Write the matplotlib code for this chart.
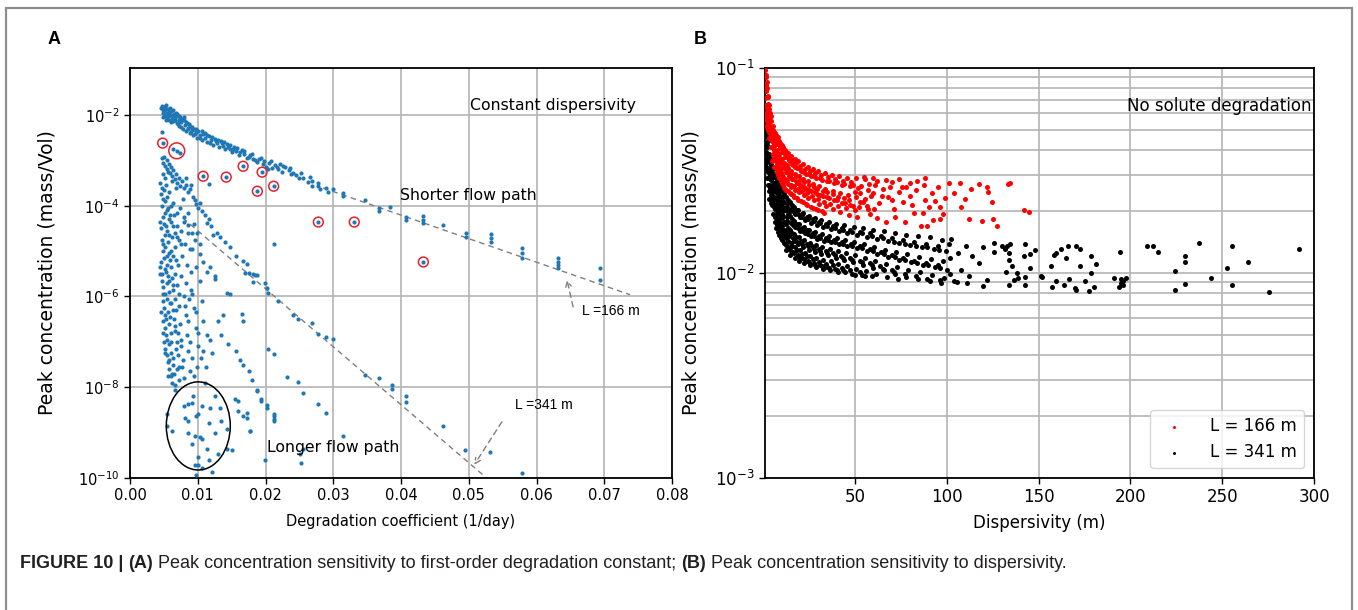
import matplotlib
matplotlib.use("Agg")
import matplotlib.pyplot as plt
import numpy as np
from matplotlib.patches import Ellipse, Rectangle
from matplotlib.ticker import FixedLocator, NullLocator, LogFormatterSciNotation, LogLocator, NullFormatter

# ---------------- Panel A data (x = degradation coefficient, value = log10 peak concentration) ----
short_x = [0.0047,0.0048,0.0049,0.0050,0.0051,0.0052,0.0053,0.0054,0.0055,0.0056,0.0057,0.0058,0.0059,0.0060,
           0.0061,0.0062,0.0063,0.0064,0.0065,0.0066,0.0068,0.0069,0.0070,0.0072,0.0073,0.0074,0.0076,0.0078,
           0.0079,0.0081,0.0083,0.0084,0.0086,0.0088,0.0089,0.0091,0.0093,0.0095,0.0097,0.0099,0.0101,0.0103,
           0.0106,0.0108,0.0111,0.0114,0.0116,0.0119,0.0122,0.0125,0.0128,0.0131,0.0134,0.0137,0.0140,0.0143,
           0.0147,0.0150,0.0154,0.0157,0.0161,0.0165,0.0169,0.0173,0.0177,0.0182,0.0187,0.0191,0.0196,0.0200,
           0.0205,0.0210,0.0214,0.0219,0.0224,0.0229,0.0234,0.0238,0.0245,0.0250,0.0256,0.0262,0.0268,0.0278,
           0.0280,0.0290,0.0292,0.0300,0.0315,0.0347,0.0367,0.0367,0.0384,0.0408,0.0408,0.0433,0.0433,0.0433,
           0.0462,0.0496,0.0496,0.0533,0.0533,0.0533,0.0579,0.0579,0.0579,0.0631,0.0631,0.0631,0.0631,0.0693,
           0.0693,0.0047,0.0116,0.0212,0.0226,0.0241,0.0268,0.0278,0.0315,
           0.0050,0.0053,0.0058,0.0061,0.0067,0.0071,0.0075,0.0080,0.0085,0.0090,0.0096,0.0104,0.0110,0.0118,
           0.0127,0.0136,0.0145,0.0152,0.0163,0.0175,0.0185,0.0198,0.0203,0.0217,
           0.0046,0.0049,0.0052,0.0055,0.0057,0.0060,0.0063,0.0066,0.0069,0.0072,0.0077,0.0082,0.0087,0.0092,
           0.0098,0.0107,0.0113,0.0121,0.0130,0.0139,0.0148,0.0158,0.0168,0.0180,0.0193,0.0208,0.0222,0.0236,
           0.0252,0.0265]
short_logc = [-1.80,-1.88,-1.95,-1.83,-2.02,-1.90,-1.79,-1.97,-2.06,-1.86,-1.93,-2.10,-1.84,-2.00,
              -1.92,-2.08,-1.88,-2.14,-1.97,-2.04,-1.95,-2.18,-2.02,-2.10,-2.25,-2.05,-2.16,-2.30,
              -2.12,-2.22,-2.35,-2.18,-2.28,-2.40,-2.24,-2.33,-2.45,-2.30,-2.38,-2.50,-2.36,-2.44,
              -2.55,-2.42,-2.50,-2.60,-2.47,-2.56,-2.66,-2.52,-2.62,-2.70,-2.58,-2.68,-2.76,-2.64,
              -2.74,-2.82,-2.70,-2.80,-2.88,-2.78,-2.86,-2.94,-2.88,-2.96,-3.04,-2.98,-3.08,-3.14,
              -3.06,-3.16,-3.10,-3.20,-3.26,-3.15,-3.22,-3.30,-3.32,-3.40,-3.38,-3.48,-3.56,-3.56,
              -3.64,-3.60,-3.70,-3.64,-3.72,-3.87,-4.05,-4.12,-4.02,-4.24,-4.31,-4.23,-4.32,-4.39,
              -4.43,-4.61,-4.68,-4.63,-4.72,-4.81,-4.94,-5.05,-5.15,-5.16,-5.24,-5.31,-5.38,-5.38,
              -5.64,-2.37,-3.53,-4.84,-3.12,-3.28,-3.45,-3.50,-3.78,
              -1.92,-2.12,-1.98,-2.15,-2.10,-2.20,-2.26,-2.05,-2.32,-2.38,-2.42,-2.50,-2.40,-2.62,
              -2.58,-2.62,-2.70,-2.76,-2.82,-2.92,-3.00,-3.02,-3.20,-3.14,
              -1.85,-2.05,-1.82,-1.95,-2.02,-1.90,-2.02,-2.12,-1.98,-2.02,-2.08,-2.15,-2.20,-2.26,
              -2.32,-2.35,-2.44,-2.48,-2.55,-2.60,-2.66,-2.72,-2.80,-2.86,-2.95,-3.02,-3.08,-3.16,
              -3.28,-3.36]

long_x = [0.0047,0.0049,0.0050,0.0052,0.0054,0.0055,0.0057,0.0059,0.0060,0.0062,0.0064,0.0066,0.0068,0.0070,
          0.0072,0.0074,0.0077,0.0080,0.0083,0.0086,0.0089,0.0093,0.0096,0.0098,0.0101,0.0106,0.0110,0.0113,
          0.0045,0.0046,0.0047,0.0048,0.0046,0.0047,0.0048,0.0046,0.0047,0.0050,0.0051,0.0052,0.0050,0.0051,
          0.0052,0.0050,0.0051,0.0055,0.0056,0.0057,0.0055,0.0056,0.0057,0.0055,0.0056,0.0060,0.0061,0.0062,
          0.0060,0.0061,0.0065,0.0066,0.0067,0.0068,0.0066,0.0070,0.0072,0.0074,0.0076,0.0077,0.0079,0.0081,
          0.0084,0.0088,0.0090,0.0086,
          0.0123,0.0133,0.0140,0.0148,0.0157,0.0167,0.0172,0.0182,0.0187,0.0128,0.0103,0.0118,0.0125,0.0079,
          0.0086,0.0091,0.0096,
          0.0045,0.0047,0.0049,0.0051,0.0048,0.0050,0.0052,0.0049,0.0051,0.0053,0.0050,0.0052,0.0054,0.0056,
          0.0058,0.0060,0.0062,0.0055,0.0057,0.0059,0.0056,0.0058,0.0060,0.0057,0.0061,0.0063,0.0065,0.0067,
          0.0062,0.0064,0.0066,0.0063,0.0065,0.0067,0.0069,0.0071,0.0073,0.0070,0.0072,0.0074,0.0076,0.0078,
          0.0080,0.0075,0.0079,0.0082,0.0084,0.0086,0.0088,0.0090,0.0094,0.0097,0.0100,0.0099,0.0103,0.0106,
          0.0108,0.0105,0.0110,0.0113,0.0118,0.0121,0.0125,0.0130,0.0135,0.0138,0.0143,0.0145,0.0148,0.0157,
          0.0162,0.0165,0.0167,0.0167,0.0175,0.0180,0.0187,0.0194,0.0202,0.0212,0.0212,0.0177,
          0.0170,0.0175,0.0185,0.0182,0.0199,0.0202,0.0204,0.0219,0.0241,0.0248,0.0268,0.0278,0.0290,0.0300,
          0.0347,0.0367,0.0386,0.0386,
          0.0204,0.0212,0.0231,0.0248,0.0256,0.0278,0.0290,0.0315,
          0.0079,0.0086,0.0091,0.0093,0.0106,0.0118,0.0125,0.0133,0.0081,0.0086,0.0098,0.0101,0.0116,0.0135,
          0.0143,0.0125,0.0086,0.0096,0.0103,0.0106,0.0091,0.0113,0.0054,0.0054,0.0062,
          0.0101,0.0101,0.0116,0.0121,0.0130,0.0143,0.0150,0.0096,0.0106,0.0098,
          0.0155,0.0160,0.0160,0.0167,0.0172,0.0172,0.0177,0.0187,0.0194,0.0202,0.0212,0.0212,0.0199,0.0251,
          0.0253,0.0256,
          0.0408,0.0408,0.0462,0.0494,0.0532,0.0578,
          0.0048,0.0053,0.0058,0.0049,0.0054,0.0059,0.0063,0.0045,0.0053,0.0058,0.0064,0.0069,0.0049,0.0054,
          0.0059,0.0063,0.0069,0.0045,0.0053,0.0058,0.0064,0.0071,0.0076,0.0049,0.0054,0.0061,0.0068,0.0073,
          0.0046,0.0053,0.0059,0.0066,0.0071,0.0048,0.0055,0.0061,0.0068,0.0075,0.0051,0.0058,0.0064,0.0070,
          0.0077,0.0056,0.0062,0.0067,0.0073,0.0081,0.0085,0.0089,0.0092,0.0095,0.0083,0.0087,0.0092,0.0097,
          0.0101,0.0108,0.0112,0.0094,0.0099,0.0104,0.0108,0.0113,0.0085,0.0092,0.0098,0.0078,0.0068,0.0062,
          0.0056,0.0051,0.0047,0.0082,0.0090,0.0104,0.0116,0.0120]
long_logc = [-2.95,-3.05,-2.93,-3.12,-3.00,-3.20,-3.08,-3.28,-3.15,-3.35,-3.22,-3.42,-3.30,-3.50,
             -3.38,-3.56,-3.46,-3.62,-3.55,-3.70,-3.64,-3.80,-3.88,-3.96,-4.05,-4.12,-4.20,-4.38,
             -3.50,-3.75,-4.00,-4.25,-4.50,-4.75,-5.00,-5.25,-5.50,-3.65,-3.90,-4.15,-4.40,-4.65,
             -4.90,-5.15,-5.40,-3.80,-4.05,-4.30,-4.55,-4.80,-5.05,-5.30,-5.55,-4.00,-4.35,-4.70,
             -5.00,-5.35,-4.20,-4.60,-4.90,-5.20,-5.50,-4.45,-4.75,-4.05,-4.55,-5.10,-4.35,-4.85,
             -5.30,-4.95,-5.45,-4.60,
             -4.65,-4.69,-4.80,-4.91,-5.10,-5.21,-5.28,-5.51,-5.52,-4.61,-5.06,-5.36,-5.62,-4.24,
             -4.43,-4.61,-4.76,
             -5.50,-5.65,-5.80,-5.95,-6.10,-6.25,-6.40,-6.55,-6.70,-6.85,-7.00,-7.15,-7.30,-7.45,
             -7.60,-7.75,-7.90,-5.70,-5.90,-6.15,-6.35,-6.60,-6.80,-7.05,-7.25,-7.50,-7.70,-7.95,
             -5.60,-5.85,-6.05,-6.30,-6.50,-6.75,-7.00,-7.30,-7.55,-5.75,-6.20,-6.60,-6.95,-7.40,
             -7.80,-5.55,-6.00,-6.40,-6.85,-7.20,-7.65,-5.85,-6.25,-6.70,-7.10,-7.55,-5.65,-6.10,
             -6.55,-7.35,-7.90,-6.85,-6.95,-7.25,-5.55,-6.55,-6.85,-6.40,-5.92,-7.05,-5.95,-7.20,
             -7.40,-6.38,-6.55,-7.50,-7.65,-7.85,-8.05,-8.25,-8.40,-8.60,-8.70,-8.97,
             -5.49,-5.49,-5.53,-5.68,-5.71,-5.82,-5.93,-6.11,-6.40,-6.50,-6.58,-6.83,-6.90,-6.94,
             -7.73,-7.80,-7.95,-8.04,
             -7.16,-7.26,-7.77,-7.88,-8.13,-8.38,-8.56,-9.07,
             -8.42,-8.38,-8.35,-8.20,-8.42,-8.46,-8.20,-8.46,-8.67,-8.74,-8.64,-8.60,-8.78,-8.74,
             -8.93,-9.00,-9.00,-9.07,-9.10,-9.14,-9.25,-9.36,-8.60,-8.85,-8.96,
             -9.54,-9.72,-9.61,-9.86,-9.47,-9.36,-9.39,-9.72,-9.79,-9.94,
             -8.27,-8.31,-8.53,-8.64,-8.56,-8.67,-8.96,-8.09,-8.31,-8.46,-8.64,-8.74,-9.61,-9.47,
             -9.68,-9.36,
             -8.20,-8.33,-8.85,-9.39,-9.43,-9.88,
             -3.30,-3.55,-3.70,-3.85,-4.10,-4.20,-3.95,-4.35,-4.45,-4.65,-4.45,-4.15,-4.85,-5.10,
             -5.20,-5.10,-4.70,-5.35,-5.45,-5.65,-5.75,-5.30,-4.85,-5.95,-6.05,-6.15,-6.30,-5.95,
             -6.35,-6.50,-6.45,-6.65,-6.80,-6.80,-6.95,-7.00,-7.15,-7.10,-7.25,-7.40,-7.35,-7.60,
             -7.55,-7.75,-7.70,-8.05,-7.85,-6.20,-6.55,-7.00,-7.35,-7.75,-5.70,-6.05,-5.95,-6.35,
             -6.80,-7.20,-7.55,-4.40,-4.60,-4.85,-5.25,-5.45,-4.15,-4.95,-5.35,-3.85,-3.60,-3.45,
             -3.25,-3.40,-3.60,-3.40,-3.55,-3.95,-4.30,-4.45]

# points highlighted with red rings
ring_x = [0.00482,0.0069,0.0108,0.0142,0.0167,0.0195,0.0188,0.0212,0.0278,0.0331,0.0433]
ring_logc = [-2.62,-2.79,-3.35,-3.37,-3.13,-3.26,-3.68,-3.57,-4.36,-4.36,-5.24]
ring_extra_x = [0.0064,0.0074]
ring_extra_logc = [-2.74,-2.84]

# guide lines (x, log10 c)
short_guide_x = [0.0285, 0.0738]
short_guide_logc = [-3.61, -5.96]
long_guide_x = [0.0078, 0.0524]
long_guide_logc = [-4.27, -9.97]

# ---------------- Panel B data ----------------
red_x = [1.2,1.4,1.3,1.5,1.2,1.4,1.6,1.3, 1.8,1.9,1.7,2.0,1.8,1.9,1.7,2.0, 2.3,2.5,2.4,2.6,2.3,2.5,2.7,
         2.9,3.1,3.0,3.2,2.9,3.1, 3.5,3.7,3.6,3.8,3.5, 4.2,4.5,4.3,4.6,4.4, 5.1,5.4,5.2,5.5,5.3,5.0,
         6.2,6.5,6.3,6.7,6.4,6.1, 7.4,7.8,7.5,7.9,7.6,7.3, 8.7,9.1,8.8,9.2,8.9,8.6, 10.1,10.5,10.2,10.6,10.3,10.0,
         11.7,12.1,11.8,12.2,11.9,11.6, 13.4,13.8,13.5,13.9,13.6,13.3, 15.2,15.6,15.3,15.7,15.4,15.1,
         17.1,17.6,17.2,17.7,17.3,16.9, 19.2,19.8,19.4,19.9,19.5,19.1, 21.6,22.3,21.8,22.4,22.0,21.5,
         24.2,25.0,24.4,25.1,24.6,24.1, 27.0,27.9,27.2,28.0,27.5,26.9, 30.1,31.1,30.4,31.2,30.6,30.0,
         33.5,34.6,33.8,34.8,34.1,33.4, 37.4,38.6,37.8,38.8,38.0, 41.5,42.7,41.8,42.9,42.1,
         45.9,47.2,46.2,47.4,46.6, 50.4,51.8,50.7,52.0,51.2, 55.3,56.9,55.7,57.1,
         5.8,5.9,5.7,7.0,7.1,6.9,8.2,8.3,8.1,9.6,9.7,9.5,11.1,11.2,11.0,12.8,12.9,12.7,14.5,14.6,14.4,
         16.3,16.4,16.2,18.4,18.5,18.3,20.7,20.8,20.6,23.3,23.4,23.2,26.0,26.1,25.9,29.0,29.1,28.9,
         32.3,32.4,32.2,36.0,36.1,40.0,40.1,44.2,44.3,48.7,48.8,53.5,
         55,59.7,62.1,66.8,70.3,73.9,79.7,84,88,101,107.3,117.5,121.7,122.2,124.6,134.5,133.3,108,112.3,
         119.4,125,127.4,142.3,144.6,96.2,92.7,89.2,85.7,77.4,82.1,86.8,90.4,96.2,
         60,63,65,68,71,74,76,80,83,92,95,99,58,62,67,72,61,69,78,88,104,113,110,
         2.0,2.7,3.3,3.9,4.8,4.0,5.6,6.0,6.8,7.2,8.0,8.4,9.3,9.9,10.8,11.3,12.4,13.0,14.1,14.9,16.0,16.6,
         17.9,18.9,20.2,21.2,22.8,23.7,25.5,26.4,28.5,29.6,31.7,33.0,35.3,36.6,39.2,40.6,43.5,45.1,48.1,50.0,
         53.0,54.5,57.8,58.5,3.0,2.2,1.6,6.6,11.5,15.0,20.0,25.0,29.5,35.0,41.0,47.0,52.5,9.0,13.0,18.0,
         22.5,27.5,32.5,38.0,44.0,50.0,56.5,60.5,64.5,70.0,75.5,81.0,87.5,93.5,98.0]
red_c = [0.098,0.090,0.083,0.077,0.071,0.066,0.060,0.056, 0.092,0.085,0.078,0.072,0.066,0.061,0.057,0.053,
         0.080,0.073,0.067,0.062,0.058,0.054,0.050, 0.072,0.066,0.061,0.057,0.053,0.049,
         0.060,0.056,0.052,0.048,0.045, 0.055,0.051,0.047,0.044,0.041, 0.050,0.047,0.044,0.041,0.038,0.035,
         0.048,0.045,0.042,0.039,0.036,0.033, 0.046,0.043,0.040,0.037,0.034,0.031,
         0.044,0.041,0.038,0.035,0.032,0.029, 0.042,0.039,0.036,0.033,0.030,0.0275,
         0.040,0.037,0.034,0.031,0.028,0.026, 0.0385,0.0355,0.0325,0.0298,0.0272,0.0250,
         0.0372,0.0342,0.0315,0.0288,0.0262,0.0242, 0.036,0.033,0.0305,0.028,0.0255,0.0235,
         0.035,0.0322,0.0296,0.027,0.0248,0.0228, 0.034,0.0312,0.0286,0.0262,0.024,0.0222,
         0.033,0.0305,0.028,0.0255,0.0232,0.0215, 0.0322,0.0296,0.0272,0.0248,0.0226,0.0208,
         0.0315,0.029,0.0265,0.024,0.0218,0.0202, 0.0308,0.0282,0.0258,0.0234,0.0212,0.0196,
         0.030,0.0275,0.025,0.0228,0.0206, 0.0296,0.027,0.0245,0.022,0.0199,
         0.0292,0.0265,0.024,0.0215,0.0192, 0.029,0.026,0.0235,0.021,0.0188, 0.0288,0.0255,0.023,0.0205,
         0.0485,0.0425,0.0365,0.0445,0.0385,0.0325,0.0425,0.0365,0.030,0.0405,0.0345,0.0285,0.0385,0.0325,0.027,
         0.0368,0.031,0.0255,0.0352,0.0298,0.0246,0.0338,0.0286,0.0240,0.0325,0.0275,0.0232,0.0315,0.0266,0.0225,
         0.0305,0.0258,0.0218,0.0298,0.0252,0.0211,0.029,0.0244,0.0205,0.0285,0.0238,0.0200,0.0282,0.0232,
         0.0278,0.0226,0.0272,0.0220,0.0268,0.0212,0.0265,
         0.0295,0.0292,0.0282,0.0285,0.0278,0.0288,0.0275,0.0280,0.029,0.0275,0.0275,0.0272,0.0262,0.0247,0.0223,
         0.0275,0.0272,0.0211,0.0183,0.018,0.0184,0.0169,0.0203,0.0199,0.0184,0.0182,0.0169,0.0169,0.0178,0.0196,
         0.0196,0.0211,0.0211,
         0.0245,0.022,0.0258,0.0235,0.0205,0.0248,0.0222,0.0238,0.0255,0.0245,0.0262,0.0232,0.0195,0.0185,0.0178,
         0.0188,0.0268,0.0262,0.0262,0.0228,0.0245,0.0258,0.023,
         0.064,0.056,0.063,0.050,0.046,0.058,0.052,0.040,0.047,0.035,0.046,0.033,0.043,0.031,0.041,0.029,0.039,
         0.0285,0.037,0.027,0.0355,0.0265,0.0345,0.0258,0.0332,0.0252,0.0322,0.0245,0.0315,0.0238,0.0308,0.023,
         0.0302,0.0222,0.0295,0.0218,0.0288,0.0212,0.0282,0.0208,0.0278,0.0202,0.0245,0.0222,0.0272,0.0238,
         0.0455,0.0515,0.0575,0.0375,0.0345,0.0305,0.0285,0.0268,0.0258,0.0248,0.0235,0.0228,0.0222,0.0365,
         0.0338,0.0298,0.0278,0.0262,0.0252,0.0242,0.0232,0.0248,0.0212,0.0205,0.0238,0.0228,0.0262,0.0215,
         0.0268,0.0225,0.0195]

black_x = [1.3,1.5,1.2,1.6,1.4,1.3, 2.1,2.3,2.0,2.4,2.2,2.1, 3.1,3.4,3.0,3.3,3.1,3.4,3.2, 4.2,4.5,4.1,4.4,4.2,4.5,
           5.4,5.7,5.3,5.6,5.4,5.7,5.5, 6.8,7.2,6.9,7.3,7.0,6.8,7.2,7.0, 8.5,8.9,8.6,9.0,8.7,8.5,8.9,8.7,
           10.3,10.8,10.4,10.9,10.5,10.2,10.7,10.4, 12.2,12.8,12.4,12.9,12.5,12.1,12.7,12.3,12.6,
           14.4,15.0,14.5,15.1,14.7,14.3,14.9,14.6,14.8, 16.7,17.4,16.8,17.5,17.0,16.6,17.3,16.9,17.2,
           19.1,19.9,19.3,20.0,19.5,19.0,19.8,19.4,19.7, 21.9,22.8,22.1,22.9,22.3,21.8,22.6,22.2,22.5,
           24.8,25.8,25.0,25.9,25.3,24.7,25.6,25.1,25.5, 28.1,29.2,28.3,29.3,28.6,28.0,29.0,28.4,28.8,
           31.6,32.8,31.9,33.0,32.2,31.5,32.6,32.0,32.4, 35.6,36.9,35.9,37.0,36.2,35.5,36.7,36.0,36.4,
           39.8,41.2,40.1,41.3,40.5,39.7,41.0,40.3,40.7, 44.2,45.8,44.6,45.9,45.0,44.1,45.5,44.8,
           49.2,50.9,49.6,51.0,50.0,49.1,50.6,49.8, 54.6,56.4,55.0,56.5,55.5,54.5,56.1,55.2,
           60.0,62.0,60.5,62.1,61.0,59.9,61.6, 66.0,68.1,66.4,68.2,67.0,65.9,67.6,
           71.9,74.1,72.3,74.2,73.0,71.8,73.6, 77.9,80.2,78.4,80.3,79.0,77.8,
           84.3,86.7,84.8,86.8,85.5,84.2, 90.8,93.3,91.3,93.4,92.0,90.7, 97.2,99.8,97.7,99.9,98.5,97.1,
           3.7,3.8,3.6,4.9,5.0,4.8,6.2,6.3,6.1,6.2,7.8,7.9,7.7,7.8,9.6,9.7,9.5,9.6,11.5,11.6,11.4,11.5,
           13.6,13.7,13.5,13.6,15.8,15.9,15.7,15.8,18.2,18.3,18.1,18.2,20.9,21.0,20.8,20.9,23.8,23.9,23.7,23.8,
           26.9,27.0,26.8,26.9,30.4,30.5,30.3,30.4,34.2,34.3,34.1,34.2,38.3,38.4,38.2,38.3,42.7,42.8,42.6,42.7,
           47.5,47.6,47.4,47.5,52.7,52.8,52.6,52.7,58.2,58.3,58.1,64.0,64.1,63.9,70.0,70.1,69.9,76.0,76.1,
           82.2,82.3,88.7,88.8,95.2,95.3,101,102,101.5,104,
           125.6,125.6,130.2,131.7,133,134.3,133.9,133.9,135.3,132,136.6,133.9,139,138.5,142.7,142.1,142.7,142.7,
           145.4,145.4,148.2,151.3,151.8,157,158.6,159.5,162.3,165.9,165,170.5,172.3,172.3,178.4,181.1,178.4,
           159.5,164.1,166.8,169.6,170.5,175.1,177.5,180.2,157.1,191,194.3,194.7,194.7,194,195.8,196.2,197.6,
           209.3,212.3,215,224.5,224.5,230,230,230,237.4,243.8,255.1,252.4,255.1,263.9,275.6,291.8,
           102.2,110.4,119.8,117.5,105.7,119.8,112,108,114,122,106,111,
           1.8,1.9,1.7,2.6,2.7,2.8,2.9,3.5,3.9,4.0,4.7,4.6,5.1,5.9,6.0,6.5,6.4,7.5,7.6,7.4,8.1,8.2,8.3,8.1,
           9.2,9.3,9.1,9.9,10.0,10.1,9.8,11.1,11.0,11.2,11.1,12.0,13.1,13.2,13.0,13.3,14.1,16.1,16.2,16.3,16.0,
           18.8,18.9,18.7,18.9,21.4,21.5,21.3,21.4,24.3,24.4,24.2,24.3,27.6,27.7,27.5,27.6,31.0,31.1,30.9,31.0,
           35.0,35.1,34.9,35.0,39.1,39.2,39.0,39.1,43.6,43.7,43.5,43.6,48.5,48.6,48.4,48.5,54.0,54.1,53.9,53.8,
           59.5,59.6,59.4,59.3,65.5,65.6,65.4,71.5,71.6,71.4,77.0,77.1,77.2,83.5,83.6,83.4,89.5,89.6,89.4,
           96.0,96.1,96.2]
black_c = [0.052,0.047,0.043,0.039,0.036,0.033, 0.046,0.042,0.038,0.035,0.032,0.029,
           0.038,0.035,0.032,0.029,0.027,0.025,0.023, 0.034,0.031,0.0285,0.026,0.024,0.022,
           0.032,0.0295,0.027,0.0248,0.0228,0.021,0.0195, 0.029,0.0268,0.0247,0.0228,0.021,0.0193,0.0178,0.0165,
           0.027,0.025,0.023,0.0212,0.0195,0.018,0.0166,0.0154, 0.0252,0.0234,0.0216,0.020,0.0185,0.017,0.0157,0.0145,
           0.0235,0.0218,0.0202,0.0187,0.0173,0.016,0.0148,0.0137,0.013,
           0.0222,0.0206,0.019,0.0176,0.0163,0.0151,0.014,0.013,0.0123,
           0.021,0.0195,0.018,0.0167,0.0155,0.0144,0.0134,0.0125,0.0119,
           0.0202,0.0187,0.0173,0.016,0.0149,0.0138,0.0129,0.012,0.0115,
           0.0196,0.0181,0.0168,0.0156,0.0145,0.0134,0.0125,0.0117,0.0112,
           0.019,0.0176,0.0163,0.0151,0.014,0.013,0.0121,0.0113,0.0109,
           0.0186,0.0172,0.0159,0.0147,0.0137,0.0127,0.0118,0.011,0.0107,
           0.0182,0.0168,0.0155,0.0144,0.0134,0.0124,0.0116,0.0108,0.0105,
           0.0178,0.0164,0.0152,0.0141,0.0131,0.0122,0.0114,0.0106,0.0103,
           0.0174,0.016,0.0148,0.0138,0.0128,0.0119,0.0111,0.0104,0.0101,
           0.0171,0.0157,0.0145,0.0135,0.0125,0.0116,0.0108,0.0101,
           0.0168,0.0154,0.0142,0.0132,0.0122,0.0113,0.0105,0.0098,
           0.0165,0.015,0.0138,0.0128,0.0119,0.011,0.0102,0.0097,
           0.0163,0.0147,0.0134,0.0124,0.0115,0.0106,0.0099, 0.016,0.0143,0.013,0.012,0.0111,0.0103,0.0096,
           0.0157,0.014,0.0127,0.0116,0.0107,0.0099,0.0094, 0.0154,0.0137,0.0124,0.0113,0.0104,0.0096,
           0.0152,0.0134,0.012,0.011,0.0101,0.0093, 0.015,0.0131,0.0117,0.0107,0.0098,0.0091,
           0.0145,0.0128,0.0114,0.0104,0.0095,0.0089,
           0.0365,0.0305,0.026,0.0325,0.027,0.023,0.0305,0.0258,0.0218,0.0188,0.028,0.0238,0.0202,0.0172,
           0.026,0.0222,0.0188,0.016,0.0243,0.0208,0.0178,0.0151,0.0228,0.0195,0.0166,0.0143,
           0.0215,0.0183,0.0157,0.0135,0.0203,0.0174,0.0149,0.0129,0.0195,0.0166,0.0143,0.0124,
           0.0188,0.0162,0.0139,0.0121,0.0183,0.0157,0.0135,0.0117,0.0178,0.0152,0.0131,0.0113,
           0.0174,0.0148,0.0128,0.0111,0.017,0.0145,0.0125,0.0109,0.0166,0.0141,0.0121,0.0106,
           0.0162,0.0138,0.0118,0.0103,0.0159,0.0135,0.0115,0.0101,0.0156,0.0131,0.0112,0.0152,0.0126,0.0108,
           0.0148,0.0122,0.0104,0.0145,0.0118,0.0142,0.0115,0.0139,0.0112,0.0136,0.0109,0.0138,0.0119,0.0099,0.0091,
           0.01406,0.01262,0.01352,0.01312,0.01352,0.0138,0.01253,0.01161,0.01083,0.01014,0.00922,0.0087,0.0095,
           0.01002,0.0139,0.01216,0.0096,0.0087,0.01244,0.01062,0.01292,0.00967,0.0096,0.01083,0.0123,0.01253,
           0.01303,0.01352,0.01183,0.01352,0.01312,0.01083,0.01216,0.0111,0.01002,0.00916,0.0087,0.00933,0.00848,
           0.00828,0.00912,0.00816,0.00855,0.00855,0.0095,0.01262,0.0094,0.00895,0.00855,0.0087,0.00916,0.0095,
           0.01352,0.01352,0.01262,0.01023,0.00822,0.01216,0.01135,0.0088,0.01406,0.0095,0.01352,0.01062,0.0087,
           0.01135,0.00804,0.01303,
           0.0146,0.01355,0.0134,0.01114,0.00908,0.00865,0.0097,0.0104,0.0121,0.0092,0.0125,0.0089,
           0.049,0.041,0.0345,0.044,0.037,0.031,0.027,0.030,0.033,0.025,0.029,0.0215,0.0252,0.0275,0.0235,0.0205,
           0.0178,0.0258,0.0218,0.0185,0.0245,0.0205,0.0172,0.0158,0.0238,0.0203,0.0175,0.0225,0.0192,0.0162,
           0.0148,0.0222,0.0189,0.0163,0.014,0.0208,0.0211,0.0179,0.0156,0.0134,0.0199,0.0201,0.0171,0.0148,
           0.0127,0.0193,0.0165,0.0142,0.0122,0.0188,0.016,0.0138,0.0119,0.0183,0.0155,0.0135,0.0115,0.0179,
           0.0152,0.0131,0.0112,0.0175,0.0148,0.0128,0.011,0.017,0.0145,0.0125,0.0107,0.0166,0.0141,0.0122,
           0.0105,0.0163,0.0138,0.0119,0.0103,0.0159,0.0135,0.0116,0.0099,0.0157,0.0132,0.0113,0.0098,0.0152,
           0.0128,0.0109,0.0097,0.0148,0.0124,0.0105,0.0142,0.012,0.0101,0.0139,0.0116,0.0099,0.0136,0.0112,
           0.0097,0.0134,0.0109,0.0094,0.013,0.0106,0.0092]

legend_labels = ["L = 166 m", "L = 341 m"]

# ---------------- figure ----------------
W, H = 1358, 610
fig = plt.figure(figsize=(W / 100, H / 100), dpi=100)
fig.patch.set_facecolor("white")

# outer frame
fig.add_artist(Rectangle((6 / W, -0.02), (1352 - 6) / W, (H - 8) / H + 0.02, transform=fig.transFigure,
                         fill=False, edgecolor="#8f8f8f", linewidth=1.6))

def px_axes(l, t, r, b):
    return fig.add_axes([l / W, (H - b) / H, (r - l) / W, (b - t) / H])

grid_kw = dict(color="#b4b4b4", linewidth=1.2)

# ---- Panel A ----
axA = px_axes(130, 68, 672, 478)
axA.set_yscale("log")
axA.set_xlim(0, 0.08)
axA.set_ylim(1e-10, 10 ** -0.965)
blue = "#1f77b4"
dot_a = 9
axA.scatter(short_x, np.power(10.0, short_logc), s=dot_a, color=blue, linewidths=0, zorder=3)
axA.scatter(long_x, np.power(10.0, long_logc), s=dot_a, color=blue, linewidths=0, zorder=3)
axA.scatter(ring_extra_x, np.power(10.0, ring_extra_logc), s=dot_a, color=blue, linewidths=0, zorder=3)
axA.scatter(ring_x, np.power(10.0, ring_logc), s=dot_a, color=blue, linewidths=0, zorder=3)
ring_sizes = [50, 130, 50, 50, 50, 50, 50, 50, 50, 50, 50]
axA.scatter(ring_x, np.power(10.0, ring_logc), s=ring_sizes, facecolors="none", edgecolors="#e8202a",
            linewidths=1.1, zorder=4)
axA.plot(short_guide_x, np.power(10.0, short_guide_logc), color="#7f7f7f", lw=1.0, ls=(0, (4, 3)), zorder=2)
axA.plot(long_guide_x, np.power(10.0, long_guide_logc), color="#7f7f7f", lw=1.0, ls=(0, (4, 3)), zorder=2)
axA.add_patch(Ellipse((0.126, 0.127), 0.118, 0.215, transform=axA.transAxes, fill=False,
                      edgecolor="black", linewidth=1.1, zorder=5))
axA.set_xticks([0.00, 0.01, 0.02, 0.03, 0.04, 0.05, 0.06, 0.07, 0.08])
axA.set_xticklabels(["0.00", "0.01", "0.02", "0.03", "0.04", "0.05", "0.06", "0.07", "0.08"])
axA.yaxis.set_major_locator(FixedLocator([1e-10, 1e-8, 1e-6, 1e-4, 1e-2]))
axA.yaxis.set_major_formatter(LogFormatterSciNotation())
axA.yaxis.set_minor_locator(NullLocator())
axA.grid(True, which="major", **grid_kw)
axA.set_axisbelow(True)
axA.tick_params(labelsize=10.5, length=4, width=1)
axA.set_xlabel("Degradation coefficient (1/day)", fontsize=10.5)
axA.set_ylabel("Peak concentration (mass/Vol)", fontsize=13.5)
axA.xaxis.set_label_coords(0.5, -0.088)
axA.yaxis.set_label_coords(-0.135, 0.5)
for sp in axA.spines.values():
    sp.set_linewidth(1.3)

axA.text(0.0624, 10 ** -1.8, "Constant dispersivity", fontsize=11.3, ha="center", va="center")
axA.text(0.0399, 10 ** -3.78, "Shorter flow path", fontsize=11.3, ha="left", va="center")
axA.text(0.0202, 10 ** -9.33, "Longer flow path", fontsize=11.3, ha="left", va="center")
axA.text(0.0667, 10 ** -6.32, "L =166 m", fontsize=10, family="Liberation Sans", ha="left", va="center")
axA.text(0.0568, 10 ** -8.39, "L =341 m", fontsize=10, family="Liberation Sans", ha="left", va="center")
arrow_kw = dict(arrowstyle="->", color="#7f7f7f", lw=1.0, linestyle=(0, (4, 3)), shrinkA=0, shrinkB=0)
axA.annotate("", xy=(0.0645, 10 ** -5.63), xytext=(0.0654, 10 ** -6.23), arrowprops=arrow_kw)
axA.annotate("", xy=(0.0508, 10 ** -9.71), xytext=(0.0549, 10 ** -8.76), arrowprops=arrow_kw)

# ---- Panel B ----
axB = px_axes(765, 68, 1314, 478)
axB.set_yscale("log")
axB.set_xlim(1.0, 300)
axB.set_ylim(1e-3, 1e-1)
dot_b = 13
axB.scatter(black_x, black_c, s=dot_b, color="black", linewidths=0, zorder=3, label=legend_labels[1])
axB.scatter(red_x, red_c, s=dot_b, color="#ff0000", linewidths=0, zorder=3, label=legend_labels[0])
axB.set_xticks([50, 100, 150, 200, 250, 300])
axB.yaxis.set_major_locator(LogLocator(base=10, numticks=10))
axB.yaxis.set_minor_locator(LogLocator(base=10, subs=np.arange(2, 10), numticks=10))
axB.yaxis.set_minor_formatter(NullFormatter())
axB.grid(True, which="both", **grid_kw)
axB.set_axisbelow(True)
axB.tick_params(which="major", labelsize=12, length=4, width=1)
axB.tick_params(which="minor", length=0)
axB.set_xlabel("Dispersivity (m)", fontsize=12)
axB.set_ylabel("Peak concentration (mass/Vol)", fontsize=13.5)
axB.xaxis.set_label_coords(0.5, -0.088)
axB.yaxis.set_label_coords(-0.118, 0.5)
for sp in axB.spines.values():
    sp.set_linewidth(1.3)
axB.text(0.995, 0.907, "No solute degradation", transform=axB.transAxes, fontsize=12, ha="right", va="center")
handles, labels = axB.get_legend_handles_labels()
axB.legend(handles[::-1], labels[::-1], loc="lower right", fontsize=12, markerscale=0.6,
           borderaxespad=0.6, handletextpad=1.2, frameon=True)

# ---- panel letters ----
fig.text(48 / W, 1 - 40 / H, "A", fontsize=13, fontweight="bold", family="Liberation Sans", va="center")
fig.text(694 / W, 1 - 40 / H, "B", fontsize=13, fontweight="bold", family="Liberation Sans", va="center")

# ---- caption with mixed weights ----
pieces = [("FIGURE 10 | ", "bold"), ("(A)", "bold"),
          (" Peak concentration sensitivity to first-order degradation constant; ", "normal"),
          ("(B)", "bold"), (" Peak concentration sensitivity to dispersivity.", "normal")]
renderer = fig.canvas.get_renderer()
cap_y = 1 - 568 / H
base_size = 10.0
texts = []
for txt, wt in pieces:
    texts.append(fig.text(0, cap_y, txt, fontsize=base_size, fontweight=wt, family="Liberation Sans",
                          va="baseline", color="#231f20"))
total = sum(t.get_window_extent(renderer).width for t in texts)
size = base_size * 1050.0 / total
xcur = 20.0
for t in texts:
    t.set_fontsize(size)
    t.set_x(xcur / W)
    xcur += t.get_window_extent(renderer).width

fig.savefig("out.png", dpi=100, facecolor="white")
